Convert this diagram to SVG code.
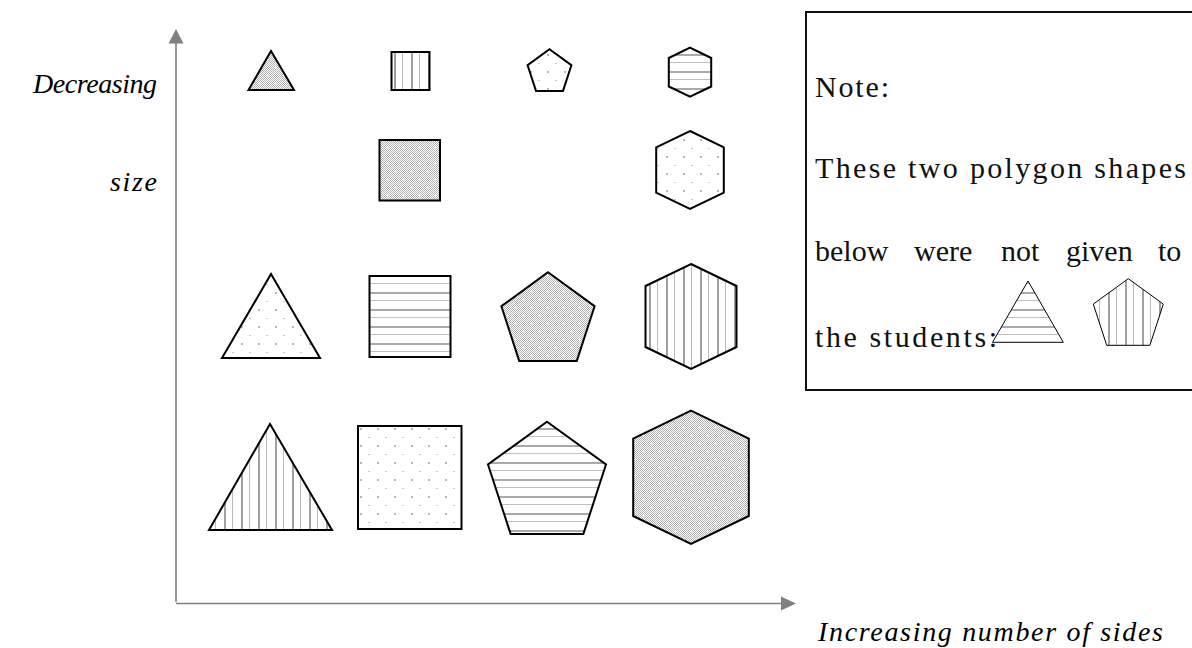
<svg xmlns="http://www.w3.org/2000/svg" width="1192" height="648" viewBox="0 0 1192 648">
<style>
.shp{stroke:#000;stroke-width:2;stroke-linejoin:miter}
.thin{stroke:#000;stroke-width:1}
.ax{stroke:#808080;stroke-width:1.6;fill:none}
.lbl{font-family:"Liberation Serif",serif;font-style:italic;font-size:28px;fill:#000}
.note{font-family:"Liberation Serif",serif;font-size:30px;fill:#111}
</style>
<defs>
<pattern id="ck" width="2" height="2" patternUnits="userSpaceOnUse"><rect width="2" height="2" fill="#fff"/><rect width="1" height="1" fill="#b0b0b0"/><rect x="1" y="1" width="1" height="1" fill="#b0b0b0"/></pattern>
<pattern id="dense" width="16" height="16" patternUnits="userSpaceOnUse"><rect width="16" height="16" fill="url(#ck)"/><rect x="2" y="3" width="3" height="1" fill="#fff"/><rect x="3" y="2" width="1" height="3" fill="#fff"/><rect x="10" y="11" width="3" height="1" fill="#fff"/><rect x="11" y="10" width="1" height="3" fill="#fff"/></pattern>
<pattern id="sparse" width="17" height="17" patternUnits="userSpaceOnUse"><rect width="17" height="17" fill="#fff"/><rect x="3" y="3" width="2" height="2" fill="#b4b4b4"/><rect x="11" y="12" width="2" height="1" fill="#c8c8c8"/></pattern>
<pattern id="hl" width="17" height="17" patternUnits="userSpaceOnUse"><rect width="17" height="17" fill="#fff"/><rect y="3" width="17" height="2" fill="#aaa"/><rect y="11" width="17" height="1" fill="#c0c0c0"/></pattern>
<pattern id="vl" width="17" height="17" patternUnits="userSpaceOnUse"><rect width="17" height="17" fill="#fff"/><rect x="3" width="2" height="17" fill="#a0a0a0"/><rect x="11" width="1" height="17" fill="#bbb"/></pattern>
</defs>

<g id="connectors">
<line class="ax" x1="176" y1="602" x2="176" y2="43"/>
<path d="M168.5,43.5 L176,29 L183.5,43.5 z" fill="#808080"/>
<line class="ax" x1="176" y1="603.5" x2="782" y2="603.5"/>
<path d="M781,596.5 L796,603.5 L781,610.5 z" fill="#808080"/>
</g>

<g id="label-decreasing"><text class="lbl" x="33" y="93" textLength="124" lengthAdjust="spacing">Decreasing</text></g>
<g id="label-size"><text class="lbl" x="110" y="191" textLength="47" lengthAdjust="spacing">size</text></g>
<g id="label-increasing"><text class="lbl" x="818" y="641" textLength="345" lengthAdjust="spacing">Increasing number of sides</text></g>

<!-- row 1 -->
<g id="tri-r1"><polygon class="shp" fill="url(#dense)" points="271,51 294,90 248.5,90"/></g>
<g id="sq-r1"><rect class="shp" fill="url(#vl)" x="391.5" y="52" width="38" height="38"/></g>
<g id="pent-r1"><polygon class="shp" fill="url(#sparse)" points="549.5,49.3 571.4,65.2 563,90.9 536,90.9 527.6,65.2"/></g>
<g id="hex-r1"><polygon class="shp" fill="url(#hl)" points="690,47.7 711.2,58 711.2,86.5 690,96.7 668.8,86.5 668.8,58"/></g>

<!-- row 2 -->
<g id="sq-r2"><rect class="shp" fill="url(#dense)" x="379.5" y="140" width="60.5" height="60.5"/></g>
<g id="hex-r2"><polygon class="shp" fill="url(#sparse)" points="690,131 723.8,147.4 723.8,192.6 690,209 656.2,192.6 656.2,147.4"/></g>

<!-- row 3 -->
<g id="tri-r3"><polygon class="shp" fill="url(#sparse)" points="271,274 320,358 222,358"/></g>
<g id="sq-r3"><rect class="shp" fill="url(#hl)" x="369.5" y="276" width="81" height="81"/></g>
<g id="pent-r3"><polygon class="shp" fill="url(#dense)" points="548,272.3 594.6,306.2 576.8,360.9 519.2,360.9 501.4,306.2"/></g>
<g id="hex-r3"><polygon class="shp" fill="url(#vl)" points="691,264 736.5,286 736.5,347 691,369 645.5,347 645.5,286"/></g>

<!-- row 4 -->
<g id="tri-r4"><polygon class="shp" fill="url(#vl)" points="270,424 332,530 209,530"/></g>
<g id="sq-r4"><rect class="shp" fill="url(#sparse)" x="358" y="426" width="103.5" height="103"/></g>
<g id="pent-r4"><polygon class="shp" fill="url(#hl)" points="547,421.7 606,464.5 583.4,533.9 510.6,533.9 488,464.5"/></g>
<g id="hex-r4"><polygon class="shp" fill="url(#dense)" points="691,410.6 748.8,438.6 748.8,516 691,544 633.2,516 633.2,438.6"/></g>

<!-- note box -->
<g id="note">
<rect x="806" y="12" width="392" height="378" fill="#fff" stroke="#111" stroke-width="2"/>
<text class="note" x="815" y="97" textLength="74" lengthAdjust="spacing">Note:</text>
<text class="note" x="815" y="177.5" textLength="371" lengthAdjust="spacing">These two polygon shapes</text>
<text class="note" y="261"><tspan x="815">below</tspan><tspan x="914">were</tspan><tspan x="1001">not</tspan><tspan x="1066">given</tspan><tspan x="1158">to</tspan></text>
<text class="note" x="815" y="347" textLength="182" lengthAdjust="spacing">the students:</text>
<polygon class="thin" fill="url(#hl)" points="1028,281 1063.3,342.3 992.5,342.3"/>
<polygon class="thin" fill="url(#vl)" points="1128.3,278.7 1163.3,304.1 1149.9,345.3 1106.7,345.3 1093.3,304.1"/>
</g>
</svg>
